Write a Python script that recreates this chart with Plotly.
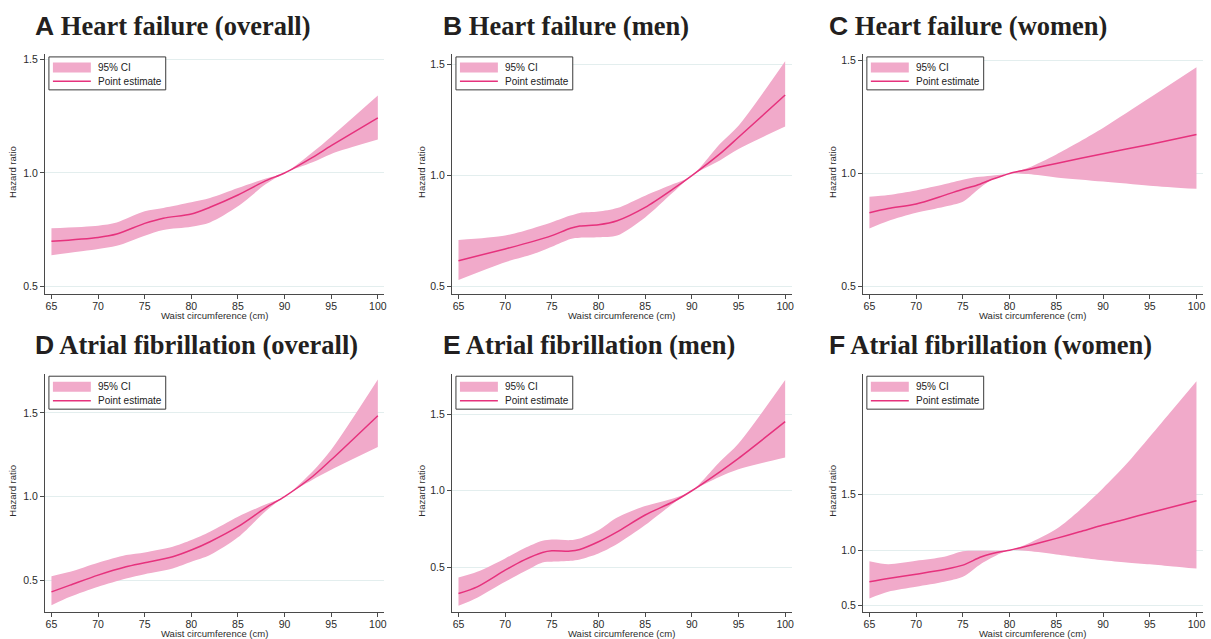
import plotly.graph_objects as go

W, H = 1211, 639

# ---------------- data ----------------
hf_all_x = [65, 70, 72, 75, 77, 80, 82, 85, 88, 90, 93, 95, 100]
hf_all_est = [0.699, 0.716, 0.731, 0.778, 0.801, 0.819, 0.849, 0.903, 0.966, 1.0, 1.069, 1.12, 1.243]
hf_all_lo = [0.638, 0.665, 0.679, 0.724, 0.749, 0.763, 0.782, 0.853, 0.951, 1.0, 1.047, 1.084, 1.147]
hf_all_hi = [0.757, 0.768, 0.782, 0.831, 0.846, 0.871, 0.89, 0.934, 0.976, 1.0, 1.091, 1.16, 1.341]

hf_men_x = [65, 70, 73, 75, 77, 78, 80, 82, 85, 88, 90, 93, 95, 100]
hf_men_est = [0.617, 0.670, 0.704, 0.730, 0.763, 0.773, 0.779, 0.797, 0.857, 0.94, 1.0, 1.098, 1.173, 1.363]
hf_men_lo = [0.530, 0.610, 0.647, 0.680, 0.715, 0.720, 0.722, 0.730, 0.812, 0.925, 1.0, 1.068, 1.12, 1.221]
hf_men_hi = [0.710, 0.730, 0.763, 0.790, 0.820, 0.832, 0.838, 0.854, 0.91, 0.962, 1.0, 1.143, 1.225, 1.515]

hf_women_x = [65, 67, 70, 73, 75, 76.5, 78, 80, 82, 85, 90, 95, 100]
hf_women_est = [0.826, 0.845, 0.865, 0.903, 0.93, 0.948, 0.972, 1.0, 1.017, 1.044, 1.087, 1.128, 1.172]
hf_women_lo = [0.757, 0.790, 0.826, 0.853, 0.875, 0.925, 0.97, 1.0, 0.997, 0.982, 0.964, 0.946, 0.932]
hf_women_hi = [0.897, 0.905, 0.925, 0.952, 0.972, 0.984, 0.99, 1.0, 1.025, 1.084, 1.201, 1.334, 1.469]

af_all_x = [65, 67, 70, 73, 75, 78, 80, 82, 85, 88, 90, 93, 95, 100]
af_all_est = [0.43, 0.47, 0.53, 0.58, 0.604, 0.64, 0.68, 0.73, 0.82, 0.934, 1.0, 1.12, 1.22, 1.484]
af_all_lo = [0.35, 0.40, 0.46, 0.51, 0.536, 0.57, 0.61, 0.65, 0.756, 0.914, 1.0, 1.1, 1.16, 1.296]
af_all_hi = [0.524, 0.55, 0.604, 0.65, 0.666, 0.70, 0.74, 0.79, 0.88, 0.954, 1.0, 1.15, 1.28, 1.70]

af_men_x = [65, 67, 70, 72, 74, 75, 77, 78, 80, 82, 85, 88, 90, 93, 95, 100]
af_men_est = [0.327, 0.371, 0.480, 0.546, 0.596, 0.607, 0.605, 0.616, 0.666, 0.731, 0.841, 0.928, 1.0, 1.124, 1.212, 1.452]
af_men_lo = [0.247, 0.30, 0.404, 0.469, 0.531, 0.535, 0.541, 0.55, 0.589, 0.651, 0.775, 0.917, 1.0, 1.092, 1.14, 1.218]
af_men_hi = [0.432, 0.469, 0.557, 0.622, 0.672, 0.681, 0.677, 0.688, 0.742, 0.825, 0.90, 0.95, 1.0, 1.19, 1.31, 1.725]

af_women_x = [65, 67, 70, 73, 75, 77, 79, 80, 82, 85, 87.5, 90, 92.5, 95, 97.5, 100]
af_women_est = [0.716, 0.745, 0.784, 0.826, 0.865, 0.94, 0.985, 1.0, 1.04, 1.106, 1.165, 1.226, 1.28, 1.337, 1.39, 1.445]
af_women_lo = [0.566, 0.626, 0.671, 0.716, 0.76, 0.88, 0.97, 1.0, 0.992, 0.962, 0.935, 0.91, 0.89, 0.873, 0.853, 0.834]
af_women_hi = [0.901, 0.874, 0.904, 0.94, 0.99, 0.995, 0.995, 1.0, 1.06, 1.19, 1.36, 1.557, 1.774, 2.02, 2.27, 2.52]

panel_letters = ["A", "B", "C", "D", "E", "F"]
panel_titles = ["Heart failure (overall)", "Heart failure (men)", "Heart failure (women)",
                "Atrial fibrillation (overall)", "Atrial fibrillation (men)", "Atrial fibrillation (women)"]
x_ticks = [65, 70, 75, 80, 85, 90, 95, 100]
y_ticks = [0.5, 1.0, 1.5]
y_tick_labels = ["0.5", "1.0", "1.5"]
legend_labels = ["95% CI", "Point estimate"]
x_title = "Waist circumference (cm)"
y_title = "Hazard ratio"

series = [
    (hf_all_x, hf_all_est, hf_all_lo, hf_all_hi),
    (hf_men_x, hf_men_est, hf_men_lo, hf_men_hi),
    (hf_women_x, hf_women_est, hf_women_lo, hf_women_hi),
    (af_all_x, af_all_est, af_all_lo, af_all_hi),
    (af_men_x, af_men_est, af_men_lo, af_men_hi),
    (af_women_x, af_women_est, af_women_lo, af_women_hi),
]

# ---------------- layout geometry (pixels) ----------------
col_left = [45, 452.7, 864.3]
col_right = [385, 793, 1205]
row_top = [53.5, 373.3]
row_bot = [293, 611.7]
y_ranges = [[0.469, 1.522], [0.469, 1.546], [0.469, 1.526],
             [0.311, 1.735], [0.208, 1.766], [0.446, 2.587]]
x_range = [64.3, 100.7]

FILL = "rgb(241,170,202)"
LINE = "rgb(230,50,125)"
AX = "#4a4a4a"
TXT = "#2b2b2b"
SANS = "Liberation Sans, Arial, sans-serif"
SERIF = "Liberation Serif, Times New Roman, serif"


def px(x):
    return x / W


def py(y):
    return 1 - y / H


fig = go.Figure()
shapes = []
annotations = []

for i, (xs, est, lo, hi) in enumerate(series):
    r, c = divmod(i, 3)
    n = i + 1
    xa = "x" if n == 1 else f"x{n}"
    ya = "y" if n == 1 else f"y{n}"
    fig.add_trace(go.Scatter(x=xs, y=lo, mode="lines", line=dict(width=0, shape="spline", smoothing=0.8),
                             xaxis=xa, yaxis=ya, showlegend=False, hoverinfo="skip"))
    fig.add_trace(go.Scatter(x=xs, y=hi, mode="lines", line=dict(width=0, shape="spline", smoothing=0.8),
                             fill="tonexty", fillcolor=FILL, xaxis=xa, yaxis=ya, showlegend=False,
                             name=legend_labels[0]))
    fig.add_trace(go.Scatter(x=xs, y=est, mode="lines", line=dict(width=1.5, color=LINE, shape="spline", smoothing=0.8),
                             xaxis=xa, yaxis=ya, showlegend=False, name=legend_labels[1]))

    L, R, T, B = col_left[c], col_right[c], row_top[r], row_bot[r]
    xkey = "xaxis" if n == 1 else f"xaxis{n}"
    ykey = "yaxis" if n == 1 else f"yaxis{n}"
    fig.layout[xkey] = dict(domain=[px(L), px(R)], anchor=ya, range=x_range, tickvals=x_ticks,
                            showline=True, linecolor=AX, linewidth=1, ticks="outside", ticklen=4,
                            tickcolor=AX, showgrid=False, zeroline=False, ticklabelstandoff=-1,
                            tickfont=dict(family=SANS, size=10.5, color=TXT))
    fig.layout[ykey] = dict(domain=[py(B), py(T)], anchor=xa, range=y_ranges[i], tickvals=y_ticks,
                            ticktext=y_tick_labels, showline=True, linecolor=AX, linewidth=1,
                            ticks="outside", ticklen=4, tickcolor=AX, showgrid=True,
                            gridcolor="#e3eeee", gridwidth=1, zeroline=False,
                            tickfont=dict(family=SANS, size=10.5, color=TXT))

    # panel title
    annotations.append(dict(
        x=px(L - 12 if c == 0 else L - 10.5 if c == 1 else L - 36), y=py(T - 28.5),
        xref="paper", yref="paper", xanchor="left", yanchor="middle", showarrow=False,
        text=f"<span style='font-family:Liberation Sans, Arial'>{panel_letters[i]}</span> <b>{panel_titles[i]}</b>",
        font=dict(family=SERIF, size=26.5, color="#231f20", weight="bold")))

    # axis titles
    annotations.append(dict(x=px((L + R) / 2), y=py(B + 21.5),
                            xref="paper", yref="paper", xanchor="center", yanchor="middle",
                            showarrow=False, text=x_title,
                            font=dict(family=SANS, size=9.5, color=TXT)))
    annotations.append(dict(x=px(L - (32 if c == 0 else 30)), y=py((T + B) / 2 - 2),
                            xref="paper", yref="paper", xanchor="center", yanchor="middle",
                            showarrow=False, text=y_title, textangle=-90,
                            font=dict(family=SANS, size=9.5, color=TXT)))

    # legend box
    bx0, by0 = L + 4, T + 2.5
    bx1, by1 = bx0 + 117, by0 + 33
    shapes.append(dict(type="rect", xref="paper", yref="paper", x0=px(bx0), x1=px(bx1),
                       y0=py(by1), y1=py(by0), line=dict(color="#3a3a3a", width=1),
                       fillcolor="white", layer="above"))
    shapes.append(dict(type="rect", xref="paper", yref="paper", x0=px(bx0 + 4), x1=px(bx0 + 42),
                       y0=py(by0 + 15.5), y1=py(by0 + 5.5), line=dict(width=0),
                       fillcolor=FILL, layer="above"))
    shapes.append(dict(type="line", xref="paper", yref="paper", x0=px(bx0 + 4), x1=px(bx0 + 42),
                       y0=py(by0 + 24.5), y1=py(by0 + 24.5), line=dict(color=LINE, width=1.5),
                       layer="above"))
    annotations.append(dict(x=px(bx0 + 47), y=py(by0 + 10.5), xref="paper", yref="paper",
                            xanchor="left", yanchor="middle", showarrow=False, text=legend_labels[0],
                            font=dict(family=SANS, size=10, color="#222")))
    annotations.append(dict(x=px(bx0 + 47), y=py(by0 + 24.5), xref="paper", yref="paper",
                            xanchor="left", yanchor="middle", showarrow=False, text=legend_labels[1],
                            font=dict(family=SANS, size=10, color="#222")))

fig.update_layout(width=W, height=H, margin=dict(l=0, r=0, t=0, b=0),
                  paper_bgcolor="white", plot_bgcolor="white",
                  shapes=shapes, annotations=annotations, showlegend=False)

fig.write_html("out.html", config={"displayModeBar": False},
               post_script="document.body.style.margin='0';")
